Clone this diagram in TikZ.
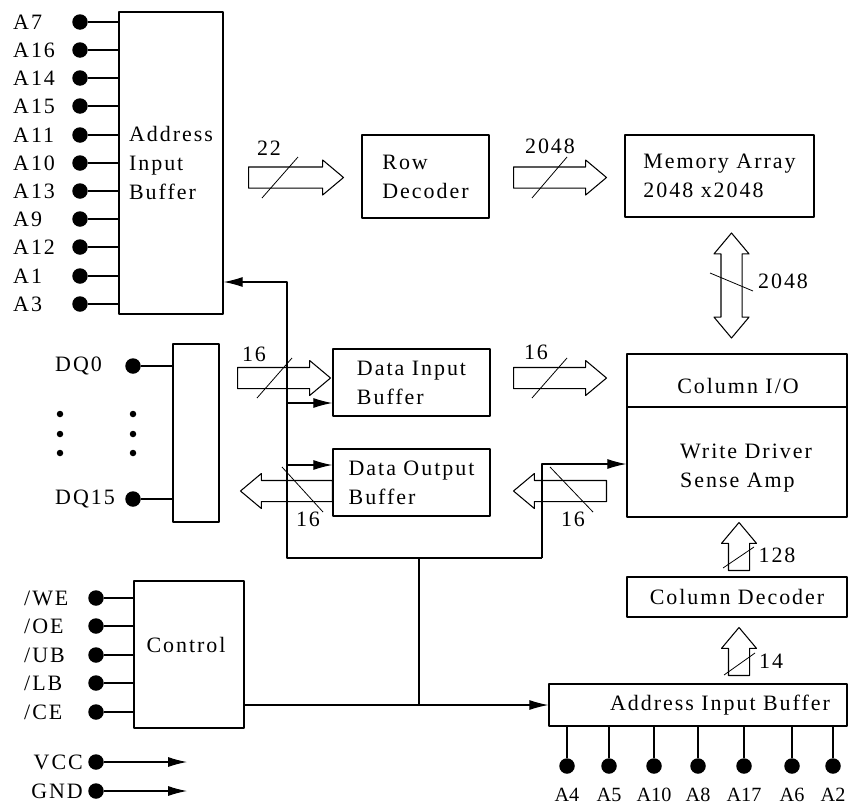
\documentclass[tikz,border=0pt]{standalone}
\usepackage{fontspec}
\setmainfont{Liberation Serif}[LetterSpace=9]
\newfontfamily\chanfont{Liberation Serif}
\usetikzlibrary{arrows.meta,shapes.arrows}

\begin{document}
\begin{tikzpicture}[x=0.02cm,y=-0.02cm,
	% styles
	hop/.style={draw, line width=0.8pt, inner sep=0pt, align=left}, % blocks
	diem/.style={circle, fill=black, inner sep=0pt, minimum size=0.31cm}, % pins
	cham/.style={circle, fill=black, inner sep=0pt, minimum size=0.13cm}, % small dots
	day/.style={line width=0.6pt}, % wires
	gach/.style={line width=0.45pt}, % bus slash
	mui/.style={-{Latex[length=0.38cm,width=0.2cm]}}, % small arrow tip
	bus/.style={single arrow, draw, anchor=tail, line width=0.6pt, inner xsep=0pt, inner ysep=0.2cm, minimum width=0.68cm,
		single arrow head extend=0.14cm, single arrow tip angle=80},
	bushai/.style={double arrow, draw, line width=0.6pt, inner xsep=0pt, inner ysep=0.2cm, minimum width=0.68cm,
		double arrow head extend=0.14cm, double arrow tip angle=80},
	chan/.style={font=\chanfont\fontsize{11.5pt}{14pt}\selectfont},
	line join=round, font=\fontsize{12.5pt}{16.5pt}\selectfont]
	\useasboundingbox (0,0) rectangle (848,805);

	% blocks
	\node[hop, minimum width=2.08cm, minimum height=6.04cm] (aib) at (171,163) {Address\\Input\\Buffer};
	\node[hop, minimum width=2.54cm, minimum height=1.66cm] (row) at (425.5,176.5) {Row\\Decoder};
	\node[hop, minimum width=3.78cm, minimum height=1.64cm] (mem) at (719.5,176) {Memory Array\\2048 x2048};
	\node[hop, minimum width=4.4cm, minimum height=3.26cm] (colio) at (737,435.5) {};
	\draw[line width=0.8pt] (colio.west |- 0,407) -- (colio.east |- 0,407);
	\node (coliotxt) at (738,386) {Column I/O};
	\node[align=left] (wdtxt) at (746,468) {Write Driver\\Sense Amp};
	\node[hop, minimum width=3.14cm, minimum height=1.34cm] (dib) at (411.5,382.5) {Data Input\\Buffer};
	\node[hop, minimum width=3.14cm, minimum height=1.34cm] (dob) at (411.5,482.5) {Data Output\\Buffer};
	\node[hop, minimum width=0.92cm, minimum height=3.56cm] (dq) at (196,433) {};
	\node[hop, minimum width=2.2cm, minimum height=2.94cm] (ctrl) at (189,654.5) {};
	\node (ctrltxt) at (186,645) {Control};
	\node[hop, minimum width=4.4cm, minimum height=0.8cm] (coldec) at (737,597) {Column Decoder};
	\node[hop, minimum width=5.96cm, minimum height=0.84cm] (aib2) at (698,705) {};
	\node (aib2txt) at (720,705) {Address Input Buffer};

	% address pins, left
	\foreach \ten/\y [count=\i] in {A7/22,A16/50,A14/78,A15/106,A11/135,A10/163,A13/191,A9/219,A12/247,A1/276,A3/304} {
		\node[diem] (p\i) at (80,\y) {};
		\node[anchor=west] (tp\i) at (7,\y) {\ten};
		\draw[day] (p\i) -- (p\i -| aib.west);
	}

	% data pins
	\node[diem] (dq0) at (133,366) {};
	\node[anchor=west] (tdq0) at (49,366) {DQ0};
	\node[diem] (dq15) at (133,499) {};
	\node[anchor=west] (tdq15) at (49,499) {DQ15};
	\draw[day] (dq0) -- (dq0 -| dq.west);
	\draw[day] (dq15) -- (dq15 -| dq.west);
	\foreach \y in {414,434,453} {
		\node[cham] (ca\y) at (60,\y) {};
		\node[cham] (cb\y) at (133,\y) {};
	}

	% control pins
	\foreach \ten/\y [count=\i] in {WE/598,OE/626,UB/655,LB/683,CE/712} {
		\node[diem] (k\i) at (96,\y) {};
		\node[anchor=west] (tk\i) at (18,\y) {/\ten};
		\draw[day] (k\i) -- (k\i -| ctrl.west);
	}

	% supply
	\node[diem] (vcc) at (96,762) {};
	\node[anchor=east] (tvcc) at (89,762) {VCC};
	\coordinate (vccend) at (187,762);
	\draw[day,mui] (vcc) -- (vccend);
	\node[diem] (gnd) at (96,791) {};
	\node[anchor=east] (tgnd) at (89,791) {GND};
	\coordinate (gndend) at (187,791);
	\draw[day,mui] (gnd) -- (gndend);

	% address pins, bottom
	\foreach \ten/\x [count=\i] in {A4/567,A5/609,A10/654,A8/698,A17/744,A6/792,A2/833} {
		\node[diem] (q\i) at (\x,766) {};
		\node[chan] (tq\i) at (\x,795) {\ten};
		\draw[day] (q\i) -- (q\i |- aib2.south);
	}

	% control wires
	\coordinate (bustop) at (287,282);
	\coordinate (bus) at (287,558);
	\coordinate (busr) at (542,558);
	\coordinate (busq) at (542,464);
	\coordinate (rdib) at (287,403);
	\coordinate (rdob) at (287,465);
	\coordinate (junc) at (419,558);
	\draw[day,mui] (busr) -- (bus) -- (bustop) -- (aib.east |- bustop);
	\draw[day,mui] (busr) -- (busq) -- (colio.west |- busq);
	\draw[day,mui] (rdib) -- (dib.west |- rdib);
	\draw[day,mui] (rdob) -- (dob.west |- rdob);
	\draw[day] (junc) -- (junc |- aib2.west);
	\draw[day,mui] (ctrl.east |- aib2.west) -- (aib2.west);

	% buses (placed by their tail)
	\node[bus, minimum height=1.9cm] (b22) at (248,177.5) {};
	\draw[gach] (262,198) -- (298,157);
	\node (n22) at (269,148) {22};
	\node[bus, minimum height=1.86cm] (brow) at (513,177.5) {};
	\draw[gach] (532,198) -- (567,157);
	\node (nrow) at (550,146) {2048};
	\node[bushai, minimum height=2.1cm, rotate=90] (bcol) at (731.5,285.5) {};
	\draw[gach] (710,273) -- (753,291);
	\node (ncol) at (783,281) {2048};
	\node[bus, minimum height=1.86cm] (bin) at (237,378) {};
	\draw[gach] (257,398) -- (292,358);
	\node (nin) at (254,354) {16};
	\node[bus, minimum height=1.86cm] (bwr) at (513,378) {};
	\draw[gach] (532,398) -- (567,358);
	\node (nwr) at (536,352) {16};
	\node[bus, minimum height=1.84cm, rotate=180] (bout) at (333,491) {};
	\draw[gach] (282,467) -- (323,512);
	\node (nout) at (308,519) {16};
	\node[bus, minimum height=1.86cm, rotate=180] (brd) at (607,491) {};
	\draw[gach] (550,467) -- (593,512);
	\node (nrd) at (573,519) {16};
	\node[bus, minimum height=0.96cm, rotate=90] (b128) at (739,571) {};
	\draw[gach] (723,568) -- (754,547);
	\node (n128) at (777,555) {128};
	\node[bus, minimum height=0.96cm, rotate=90] (b14) at (739,676) {};
	\draw[gach] (724,675) -- (755,653);
	\node (n14) at (771,661) {14};
\end{tikzpicture}
\end{document}
